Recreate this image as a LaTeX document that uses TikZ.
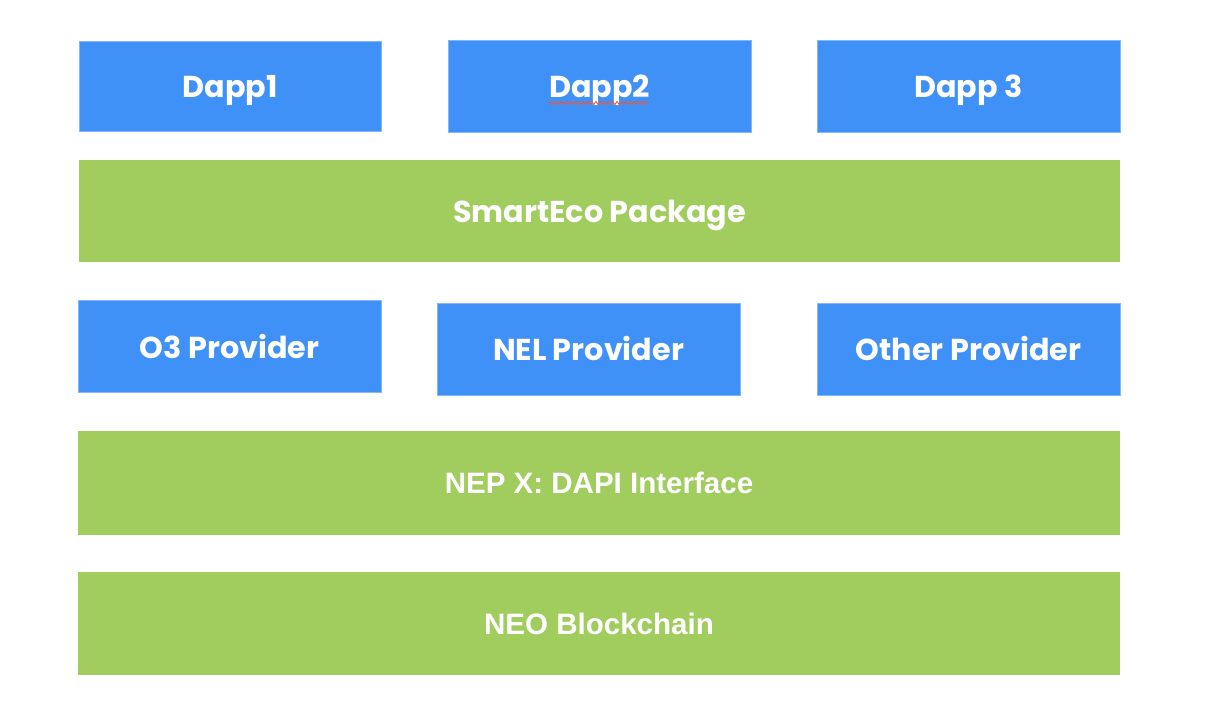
\documentclass[tikz,border=0pt]{standalone}
\usepackage{fontspec}
\setmainfont{Liberation Sans}
\newfontfamily\popfont{Poppins}
\usetikzlibrary{decorations.pathmorphing}

\definecolor{layerblue}{RGB}{64,145,247}
\definecolor{layergreen}{RGB}{161,204,94}
\definecolor{spellred}{RGB}{226,90,70}

\begin{document}
\begin{tikzpicture}[x=0.025cm,y=-0.025cm,
        popbold/.style={font=\popfont\bfseries\fontsize{21.5}{25}\selectfont,text height=17pt,text depth=0pt},
        dapp/.style={rectangle,fill=layerblue,draw=layerblue!65!white,line width=0.5pt,
            inner sep=0pt,text=white,popbold},
        layer/.style={rectangle,fill=layergreen,inner sep=0pt,text=white},
        box/.style 2 args={minimum width=#1*0.025cm,minimum height=#2*0.025cm}]

            %\draw [help lines] (0,0) grid (1220,718);
            \useasboundingbox (0,0) rectangle (1220,718);

            \path   (230,86)     node (dappa) [dapp,box={302}{90}] {Dapp1}
                    (599.5,86)   node (dappb) [dapp,box={303}{92}] {Dapp2}
                    (968.5,86)   node (dappc) [dapp,box={303}{92}] {Dapp 3}
                    (599.5,211)  node (eco) [layer,box={1041}{102},popbold] {SmartEco Package}
                    (229.5,346.5) node (othree) [dapp,box={303}{92}] {O3 Provider}
                    (588.5,349)  node (nel) [dapp,box={303}{92}] {NEL Provider}
                    (968.5,349)  node (other) [dapp,box={303}{92}] {Other Provider}
                    (599,483)    node (dapi) [layer,box={1042}{104},font=\bfseries\fontsize{21}{25}\selectfont] {NEP X: DAPI Interface}
                    (599,623.5)  node (neo) [layer,box={1042}{103},font=\bfseries\fontsize{21}{25}\selectfont] {NEO Blockchain};

            \draw[spellred,line width=0.6pt,decorate,decoration={zigzag,amplitude=1.2pt,segment length=3pt}]
                    ([xshift=-51*0.025cm,yshift=-17*0.025cm]dappb.center) -- ([xshift=49*0.025cm,yshift=-17*0.025cm]dappb.center);

\end{tikzpicture}
\end{document}
